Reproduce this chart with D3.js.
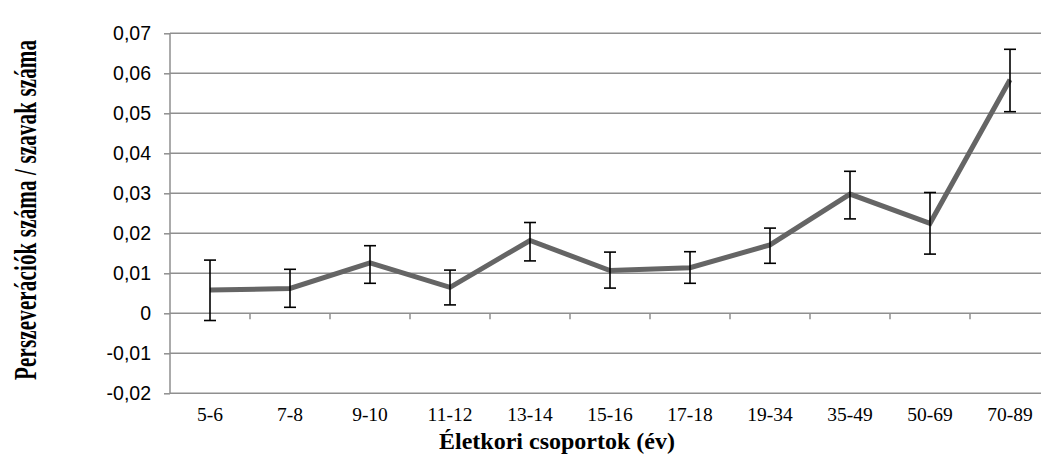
<!DOCTYPE html>
<html>
<head>
<meta charset="utf-8">
<script src="https://cdn.jsdelivr.net/npm/d3@7"></script>
<style>
  body { margin: 0; background: #fff; }
  svg { display: block; }
</style>
</head>
<body>
<div id="grafico"></div>
<script>
const categorias = ["5-6", "7-8", "9-10", "11-12", "13-14", "15-16", "17-18", "19-34", "35-49", "50-69", "70-89"];
const atlagok = [0.0058, 0.0062, 0.0126, 0.0065, 0.0182, 0.0107, 0.0114, 0.0171, 0.0298, 0.0225, 0.0584];
const felso = [0.0133, 0.0110, 0.0169, 0.0108, 0.0227, 0.0153, 0.0154, 0.0213, 0.0355, 0.0302, 0.0660];
const also = [-0.0018, 0.0015, 0.0075, 0.0021, 0.0131, 0.0063, 0.0075, 0.0125, 0.0236, 0.0148, 0.0504];
const yTicks = [-0.02, -0.01, 0, 0.01, 0.02, 0.03, 0.04, 0.05, 0.06, 0.07];

const width = 1041, height = 475;
const margin = { top: 33.3, left: 170 };
const plotW = 880, plotH = 360;

const svg = d3.select("#grafico")
  .append("svg")
  .attr("width", width)
  .attr("height", height);

const x = d3.scaleBand().domain(categorias).range([margin.left, margin.left + plotW]);
const y = d3.scaleLinear().domain([-0.02, 0.07]).range([margin.top + plotH, margin.top]);

const loc = d3.formatLocale({ decimal: ",", thousands: " ", grouping: [3], currency: ["", ""], minus: "-" });
const fmt = (v) => Math.abs(v) < 1e-9 ? "0" : loc.format(".2f")(v);

const gridColor = "#8f8f8f";

// gridlines + y ticks
const yAxis = d3.axisLeft(y).tickValues(yTicks).tickFormat(fmt).tickSize(6).tickPadding(13);
const gy = svg.append("g").attr("transform", `translate(${margin.left},0)`).call(yAxis);
gy.select(".domain").remove();
gy.selectAll(".tick line").attr("stroke", gridColor).attr("stroke-width", 1.5);
gy.selectAll(".tick text")
  .attr("fill", "#000")
  .style("font-family", "'Liberation Sans', Arial, sans-serif")
  .style("font-size", "19.5px");

svg.append("g")
  .selectAll("line")
  .data(yTicks)
  .join("line")
  .attr("x1", margin.left)
  .attr("x2", margin.left + plotW)
  .attr("y1", (d) => y(d))
  .attr("y2", (d) => y(d))
  .attr("stroke", gridColor)
  .attr("stroke-width", 1.5);

// vertical axis line
svg.append("line")
  .attr("x1", margin.left).attr("x2", margin.left)
  .attr("y1", y(0.07)).attr("y2", y(-0.02))
  .attr("stroke", gridColor).attr("stroke-width", 1.5);

// x ticks at zero line (category boundaries)
const bounds = categorias.map((c) => x(c) + x.bandwidth());
svg.append("g")
  .selectAll("line")
  .data(bounds)
  .join("line")
  .attr("x1", (d) => d).attr("x2", (d) => d)
  .attr("y1", y(0)).attr("y2", y(0) + 6)
  .attr("stroke", gridColor).attr("stroke-width", 1.5);

// category labels
svg.append("g")
  .selectAll("text")
  .data(categorias)
  .join("text")
  .attr("x", (d) => x(d) + x.bandwidth() / 2)
  .attr("y", 420.5)
  .attr("text-anchor", "middle")
  .style("font-family", "'Liberation Serif', 'Times New Roman', serif")
  .style("font-size", "19.5px")
  .text((d) => d);

// line
const pontok = categorias.map((c, i) => ({ c, v: atlagok[i], hi: felso[i], lo: also[i] }));
const line = d3.line().x((d) => x(d.c) + x.bandwidth() / 2).y((d) => y(d.v));
svg.append("path")
  .datum(pontok)
  .attr("fill", "none")
  .attr("stroke", "#656565")
  .attr("stroke-width", 5)
  .attr("stroke-linejoin", "miter")
  .attr("d", line);

// error bars
const eb = svg.append("g").attr("stroke", "#000").attr("stroke-width", 1.6);
pontok.forEach((d) => {
  const cx = x(d.c) + x.bandwidth() / 2;
  eb.append("line").attr("x1", cx).attr("x2", cx).attr("y1", y(d.hi)).attr("y2", y(d.lo));
  eb.append("line").attr("x1", cx - 6).attr("x2", cx + 6).attr("y1", y(d.hi)).attr("y2", y(d.hi));
  eb.append("line").attr("x1", cx - 6).attr("x2", cx + 6).attr("y1", y(d.lo)).attr("y2", y(d.lo));
});

// axis titles
svg.append("text")
  .attr("x", 557)
  .attr("y", 449)
  .attr("text-anchor", "middle")
  .style("font-family", "'Liberation Serif', 'Times New Roman', serif")
  .style("font-weight", "bold")
  .style("font-size", "24px")
  .text("Életkori csoportok (év)");

// a fuggoleges cim nyujtott betukkel jelenik meg
svg.append("text")
  .attr("transform", "translate(35.5,210) rotate(-90) scale(1,1.55)")
  .attr("text-anchor", "middle")
  .attr("textLength", 340)
  .attr("lengthAdjust", "spacing")
  .style("font-family", "'Liberation Serif', 'Times New Roman', serif")
  .style("font-weight", "bold")
  .style("font-size", "21px")
  .text("Perszeverációk száma / szavak száma");
</script>
</body>
</html>
